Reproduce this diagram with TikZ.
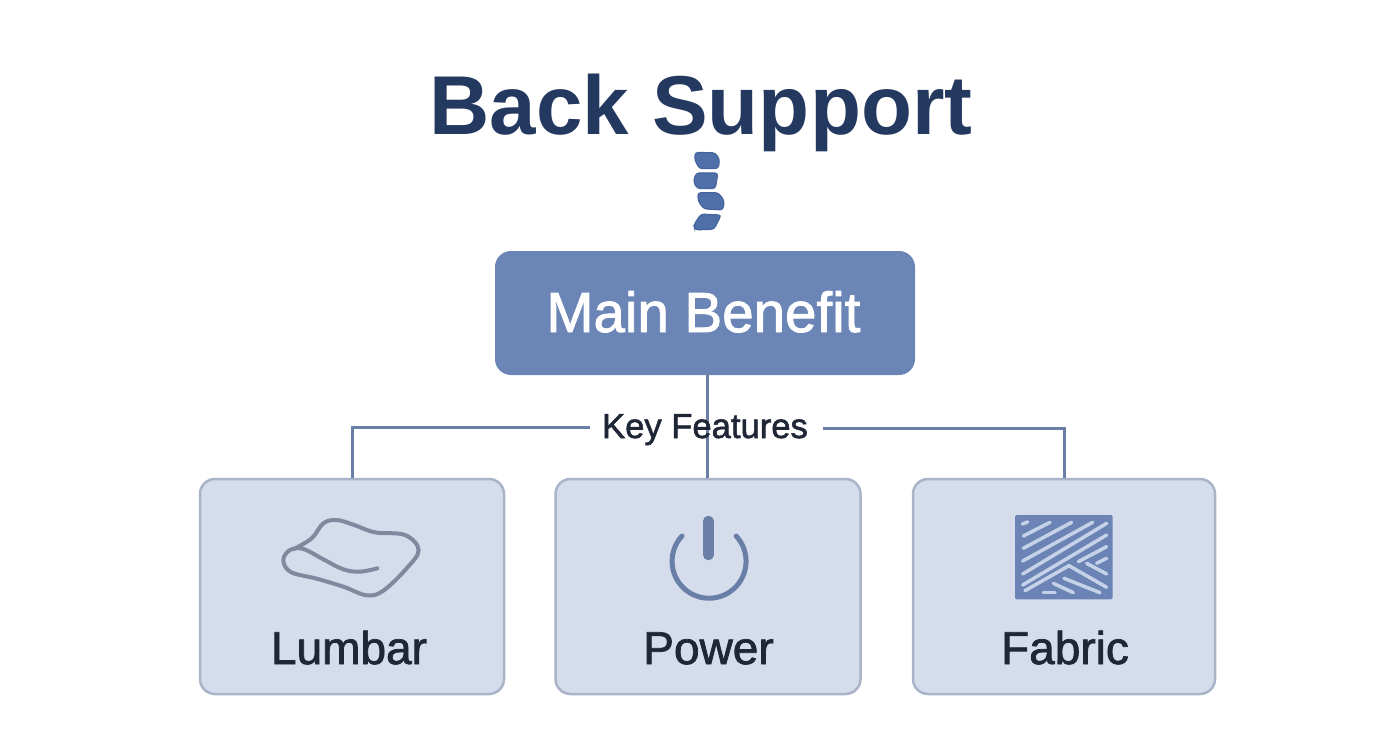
\documentclass[tikz,border=0pt]{standalone}
\usepackage{fontspec}
\setmainfont{Liberation Sans}
\newfontfamily\medfont[FakeBold=1.6]{Liberation Sans}
\usetikzlibrary{calc}
\definecolor{navy}{HTML}{24395F}
\definecolor{ink}{HTML}{1F2737}
\definecolor{mainblue}{HTML}{6B85B7}
\definecolor{cardfill}{HTML}{D5DDEC}
\definecolor{cardedge}{HTML}{AAB4C8}
\definecolor{wire}{HTML}{6A7FA8}
\definecolor{spine}{HTML}{4F6FA8}
\definecolor{spineedge}{HTML}{45639C}
\definecolor{iconblue}{HTML}{6B84B5}
\definecolor{stripe}{HTML}{C5D2E8}
\definecolor{cushion}{HTML}{7F8A9E}
\tikzset{
  card/.style={draw=cardedge,line width=2.5pt,fill=cardfill,rounded corners=15pt,minimum height=215pt,inner sep=0pt},
  cardlabel/.style={font=\medfont\fontsize{46pt}{50pt}\selectfont,text=ink,inner sep=0pt,anchor=base},
  wireline/.style={draw=wire,line width=3pt},
  vertebra/.style={fill=spine,draw=spineedge,line width=1pt,rounded corners=3pt},
  iconzoom/.style={x=0.3333pt,y=-0.3333pt},
  weave/.style={draw=stripe,line width=3.5pt,line cap=round}
}
\begin{document}
\begin{tikzpicture}[x=1pt,y=-1pt]
\useasboundingbox (0,0) rectangle (1392,752);
\fill[white] (0,0) rectangle (1392,752);

\node[font=\bfseries\fontsize{83.5pt}{90pt}\selectfont,text=navy,inner sep=0pt,anchor=base] (title) at (701,134.5) {Back Support};

% spine
\begin{scope}[shift={(640pt,-140pt)},iconzoom]
\draw[vertebra] (165,37) -- (225,38) -- (239,58) -- (235,86) -- (178,86) -- (164,60) -- cycle;
\draw[vertebra] (168,99) -- (234,99) -- (226,146) -- (172,146) -- (160,125) -- cycle;
\draw[vertebra] (173,158) -- (235,158) -- (253,182) -- (249,210) -- (192,207) -- (175,185) -- cycle;
\draw[vertebra] (183,222) -- (244,225) -- (222,268) -- (165,270) -- (161,255) -- cycle;
\end{scope}

\node[fill=mainblue,rounded corners=16pt,minimum width=420pt,minimum height=124pt,inner sep=0pt] (main) at (705,313) {};
\node[font=\medfont\fontsize{56.5pt}{60pt}\selectfont,text=white,inner sep=0pt,anchor=base] (mainlabel) at (703.5,332) {Main Benefit};

\node[card,minimum width=304pt] (lumbar) at (352,586.5) {};
\node[card,minimum width=305pt] (power) at (708,586.5) {};
\node[card,minimum width=302pt] (fabric) at (1064,586.5) {};

\coordinate (kl) at (590,427);
\coordinate (kr) at (823,428);
\coordinate (ktop) at ($(power.north |- main.south)+(-1,0)$);
\coordinate (kbot) at ($(power.north)+(-1,0)$);
\draw[wireline] (ktop) -- (kbot);
\draw[wireline] (kl) -| (lumbar.north);
\draw[wireline] (kr) -| (fabric.north);
\node[font=\medfont\fontsize{34.6pt}{38pt}\selectfont,text=ink,inner sep=0pt,anchor=base] (keys) at (705,438) {Key Features};

\node[cardlabel] (lumbarlabel) at (349,664) {Lumbar};
\node[cardlabel] (powerlabel) at (708.5,664) {Power};
\node[cardlabel] (fabriclabel) at (1065,664) {Fabric};

% cushion
\begin{scope}[shift={(260pt,-500pt)},iconzoom]
\draw[cushion,line width=4pt,line cap=round,line join=round]
  plot[smooth,tension=0.6] coordinates {(352,205) (300,215) (250,208) (190,178) (130,147) (90,150) (70,180) (92,216) (170,236) (250,260) (320,286) (370,272) (440,205) (476,150) (435,105) (345,97) (280,74) (230,60) (190,70) (155,115) (100,148)};
\end{scope}

% power
\draw[wire,line width=5pt,line cap=round] (682,536) arc[start angle=-137,end angle=-403,radius=37];
\begin{scope}[shift={(640pt,-500pt)},iconzoom]
\draw[wire,line width=10.5pt,line cap=round] (205,63) -- (205,165);
\end{scope}

% fabric
\begin{scope}[shift={(990pt,-500pt)},iconzoom]
\fill[iconblue,rounded corners=2pt] (75,45) rectangle (368,298);
\draw[weave] (97,72) -- (113,66);
\draw[weave] (100,108) -- (180,67);
\draw[weave] (100,145) -- (245,67);
\draw[weave] (98,183) -- (308,67);
\draw[weave] (98,222) -- (350,70);
\draw[weave] (98,255) -- (350,105);
\draw[weave] (105,272) -- (237,197) -- (350,262);
\draw[weave] (265,185) -- (350,140);
\draw[weave] (320,190) -- (350,175);
\draw[weave] (290,190) -- (350,222);
\draw[weave] (160,277) -- (195,277);
\draw[weave] (190,250) -- (250,278);
\draw[weave] (222,235) -- (330,278);
\end{scope}
\end{tikzpicture}
\end{document}
